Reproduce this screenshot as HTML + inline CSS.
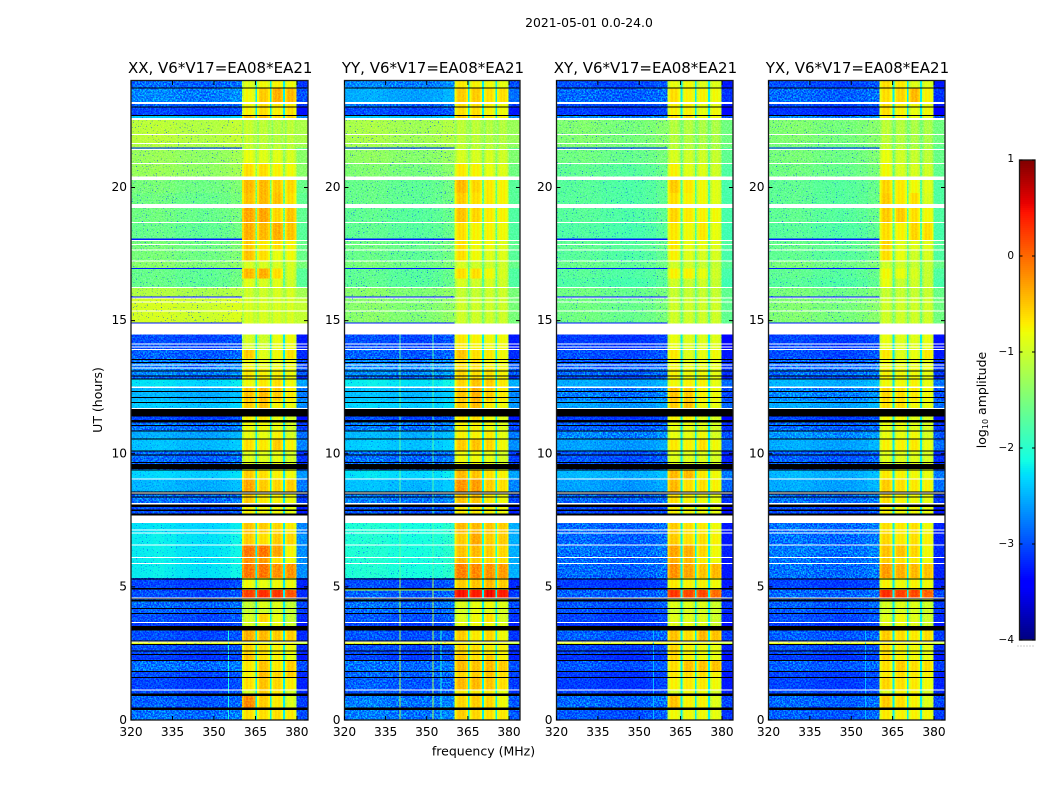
<!DOCTYPE html>
<html lang="en">
<head>
<meta charset="utf-8">
<title>2021-05-01 0.0-24.0</title>
<style>
html,body{margin:0;padding:0;background:#fff;}
svg{display:block;}
text{font-family:"DejaVu Sans","Liberation Sans",sans-serif;fill:#000;}
</style>
</head>
<body>
<svg id="figure" xmlns="http://www.w3.org/2000/svg" width="1050" height="800" viewBox="0 0 1050 800">
<defs>
<filter id="grain" x="0" y="0" width="1" height="1" color-interpolation-filters="sRGB">
<feTurbulence type="fractalNoise" baseFrequency="0.62" numOctaves="2" seed="7"/>
<feColorMatrix type="matrix" values="3.2 0 0 0 -1.2  3.2 0 0 0 -1.2  3.2 0 0 0 -1.2  0 0 0 0 1"/>
</filter>
<filter id="specks" x="0" y="0" width="1" height="1" color-interpolation-filters="sRGB">
<feTurbulence type="fractalNoise" baseFrequency="0.8" numOctaves="1" seed="23"/>
<feColorMatrix type="matrix" values="0 0 0 0 0  0 0 0 0 0.3  0 0 0 0 1  40 0 0 0 -28"/>
</filter>
</defs>
<rect width="1050" height="800" fill="#fff"/>
<text x="589" y="27" font-size="12.400" text-anchor="middle">2021-05-01 0.0-24.0</text>
<text x="483.500" y="755.500" font-size="12.500" text-anchor="middle">frequency (MHz)</text>
<text transform="translate(102,400) rotate(-90)" font-size="12.500" text-anchor="middle">UT (hours)</text>
<text transform="translate(986,400) rotate(-90)" font-size="12.500" text-anchor="middle">log<tspan font-size="8" dy="2">10</tspan><tspan dy="-2"> amplitude</tspan></text>
</svg>
<script>
// ---- Axis data ----
const panelTitles = ["XX, V6*V17=EA08*EA21","YY, V6*V17=EA08*EA21","XY, V6*V17=EA08*EA21","YX, V6*V17=EA08*EA21"];
const hourTicks = [0,5,10,15,20];
const freqTicks = [320,335,350,365,380];
const colorbarTicks = [1,0,-1,-2,-3,-4];

// ---- Frequency structure (MHz): sky, four spectral windows, gaps, upper edge ----
const skyEdges = [320,324,328,332,336,340,344,348,352,356,360.2];
const skyProfile = [0.04,0.05,0.07,0.05,0.01,0,-0.02,0,0.03,0.09];
const windowStart = [360.2,365.6,370.8,375.6];
const windowEnd = [365.0,370.2,375.0,379.8];
const windowShape = [-0.18,0.02,0.1,0.02,0.1,0.02,-0.1];
const upperEdge = [379.8,384];

// ---- Time rows: first sample (2.25 min integrations from 0 UT) of each row, top-down ----
const rowStart = [640,633,617,614,606,601,577,573,571,557,541,528,513,498,480,470,459,452,442,433,422,386,371,362,353,345,342,334,320,304,298,290,282,269,250,241,229,217,199,187,175,164,156,142,130,122,112,107,98,90,78,76,66,59,49,43,30,24,12];
const edgeDrop = [-.25,-.25,-.25,-.25,-.25,-.05,-.05,-.05,-.05,-.05,-.05,-.05,-.05,-.05,-.05,-.05,-.05,-.05,-.05,-.05,-.05,-.25,-.25,-.25,-.25,-.25,-.25,-.25,-.25,-.25,-.25,-.25,-.25,-.25,-.25,-.25,-.25,-.25,-.4,-.4,-.4,-.4,-.4,-.15,-.15,-.15,-.15,-.15,-.15,-.15,-.15,-.15,-.15,-.15,-.15,-.15,-.15,-.15,-.15];

// ---- log10 amplitude per row: [sky, window1, window2, window3, window4] ----
const cellsXX = [
[-2.85,-.95,-.85,-.8,-.85],[-2.7,-.85,-.6,-.45,-.5],[-2.85,-.85,-.7,-.75,-.75],[-3.05,-.8,-.7,-.8,-.7],[-2.4,-.55,-.55,-.7,-.65],
[-1.15,-1.1,-1.15,-1.2,-1.15],[-1.2,-1.1,-1.15,-1.15,-1.15],[-1.55,-1.15,-1.15,-1.15,-1.2],[-1.35,-.9,-.95,-.95,-1],[-1.35,-.7,-.7,-.8,-.85],
[-1.55,-.5,-.5,-.6,-.65],[-1.6,-.55,-.5,-.55,-.7],[-1.6,-.4,-.4,-.65,-.55],[-1.65,-.45,-.5,-.45,-.55],[-1.55,-.6,-.75,-.7,-.8],
[-1.55,-.55,-.7,-.9,-.85],[-1.45,-1,-1,-1,-1],[-1.65,-.5,-.45,-.7,-1],[-1.65,-.95,-1,-.95,-1.05],[-1.2,-1.05,-1.05,-1,-1],
[-1,-1,-1,-1,-1],[-3,-1,-1.05,-.9,-.85],[-2.9,-.6,-.95,-.85,-.7],[-2.75,-.85,-.9,-.9,-.85],[-2.7,-.75,-.8,-.8,-.85],
[-2.9,-.75,-.8,-.8,-.85],[-2.3,-.85,-.75,-.7,-.85],[-2.5,-.55,-.5,-.6,-.75],[-2.4,-.6,-.55,-.8,-.85],[-3.05,-.8,-.75,-.9,-1],
[-2.8,-.85,-.85,-.9,-1],[-2.55,-.9,-.9,-.8,-1],[-2.45,-.7,-.75,-.6,-.8],[-2.85,-.95,-.95,-.9,-1],[-2.35,-.6,-.7,-.8,-.85],
[-2.5,-.4,-.6,-.65,-.6],[-2.8,-.6,-.75,-.8,-.85],[-3,-.8,-.85,-.85,-.9],[-2.3,-.55,-.6,-.65,-.75],[-2.25,-.6,-.7,-.6,-.65],
[-2.25,-.15,-.15,-.4,-.8],[-2.25,-.3,-.35,-.7,-.85],[-2.25,-.15,-.15,-.3,-.3],[-3.05,-.85,-.9,-.85,-.85],[-3,.15,.25,.2,.05],
[-2.85,-1.1,-.95,-.95,-1.1],[-2.9,-1.1,-1.05,-1,-1.1],[-3,-1,-.65,-.9,-1.1],[-3.1,-1,-.9,-.9,-1.05],[-3,-.45,-.5,-.6,-.6],
[-.9,-.8,-.85,-.85,-.85],[-3,-.65,-.7,-.8,-.85],[-3.1,-.55,-.7,-.8,-.9],[-2.8,-.75,-.55,-.75,-.6],[-3,-.8,-.5,-.65,-.6],
[-3.05,-.7,-.55,-.65,-.75],[-3,-1,-.6,-.75,-1],[-2.9,-.25,-.6,-.75,-.95],[-2.8,-.7,-.7,-.7,-.75]];
const cellsYY = [
[-2.7,-.75,-.8,-.85,-.9],[-2.55,-.6,-.6,-.7,-.7],[-2.8,-.7,-.7,-.8,-.85],[-3,-.7,-.7,-.8,-.85],[-2.4,-.6,-.65,-.75,-.8],
[-1.25,-1.15,-1.15,-1.2,-1.2],[-1.3,-1.1,-1.15,-1.15,-1.2],[-1.6,-1.15,-1.15,-1.2,-1.2],[-1.4,-1,-1,-1,-1.05],[-1.5,-.75,-.8,-.9,-.95],
[-1.65,-.5,-.65,-.75,-.8],[-1.65,-.6,-.7,-.75,-.8],[-1.7,-.55,-.65,-.75,-.8],[-1.7,-.7,-.8,-.8,-.85],[-1.6,-.7,-.85,-.85,-.95],
[-1.65,-.7,-.85,-.95,-.95],[-1.55,-1,-1.05,-1.05,-1.05],[-1.7,-.7,-.7,-.85,-1],[-1.7,-1,-1.05,-1,-1.05],[-1.45,-1.1,-1.1,-1.05,-1.05],
[-1.45,-1.05,-1.05,-1.05,-1.05],[-3,-.75,-.8,-.85,-.85],[-2.9,-.55,-.7,-.75,-.85],[-2.7,-.7,-.7,-.8,-.85],[-2.65,-.65,-.7,-.7,-.8],
[-2.85,-.65,-.7,-.75,-.8],[-2.25,-.65,-.55,-.6,-.75],[-2.45,-.55,-.45,-.6,-.75],[-2.35,-.6,-.5,-.75,-.85],[-3,-.75,-.7,-.85,-.95],
[-2.75,-.8,-.8,-.85,-.95],[-2.5,-.8,-.8,-.75,-.9],[-2.4,-.6,-.55,-.65,-.85],[-2.8,-.85,-.85,-.9,-1],[-2.3,-.5,-.55,-.7,-.8],
[-2.45,-.3,-.35,-.6,-.7],[-2.75,-.55,-.55,-.75,-.85],[-2.95,-.75,-.75,-.8,-.85],[-2.1,-.5,-.5,-.55,-.6],[-2.1,-.6,-.4,-.6,-.6],
[-2.1,-.55,-.5,-.6,-.65],[-2.1,-.5,-.6,-.65,-.7],[-2.1,-.2,-.25,-.3,-.35],[-3,-.6,-.55,-.5,-.6],[-2.9,.4,.35,.45,.35],
[-2.8,-.95,-.9,-.85,-.95],[-2.85,-1,-.9,-.95,-1],[-2.95,-.95,-.85,-.7,-1],[-3.05,-.9,-.85,-.85,-.95],[-2.95,-.6,-.75,-.65,-.85],
[-.9,-.8,-.85,-.85,-.85],[-3,-.65,-.7,-.75,-.8],[-3.05,-.55,-.7,-.6,-.8],[-2.8,-.5,-.55,-.5,-.6],[-2.85,-.65,-.6,-.55,-.7],
[-2.9,-.5,-.5,-.55,-.7],[-2.95,-.75,-.75,-.75,-.9],[-2.75,-.65,-.6,-.65,-.85],[-2.75,-.6,-.65,-.7,-.75]];
const cellsXY = [
[-3,-.9,-.85,-.95,-.95],[-2.85,-.7,-.8,-.8,-.85],[-3,-.8,-.8,-.9,-.9],[-3.1,-.8,-.8,-.9,-.85],[-2.7,-.7,-.7,-.85,-.85],
[-1.5,-1.2,-1.2,-1.25,-1.25],[-1.5,-1.15,-1.2,-1.2,-1.25],[-1.7,-1.2,-1.2,-1.2,-1.25],[-1.6,-1,-1.05,-1.05,-1.1],[-1.7,-.8,-.95,-.95,-1.05],
[-1.75,-.6,-.75,-.85,-.95],[-1.75,-.7,-.8,-.85,-.95],[-1.75,-.65,-.75,-.8,-.85],[-1.8,-.75,-.85,-.75,-.9],[-1.7,-.75,-.9,-.9,-.95],
[-1.75,-.8,-.95,-1,-1],[-1.65,-1.05,-1.05,-1.1,-1.1],[-1.75,-.8,-.8,-.9,-1.05],[-1.8,-1.05,-1.1,-1.05,-1.1],[-1.6,-1.1,-1.1,-1.1,-1.1],
[-1.6,-1.05,-1.05,-1.05,-1.05],[-3.1,-.9,-.95,-.95,-.95],[-3,-.75,-.95,-.9,-.85],[-2.9,-.85,-.9,-.9,-.9],[-2.85,-.8,-.85,-.85,-.9],
[-3,-.8,-.85,-.85,-.9],[-2.55,-.85,-.8,-.8,-.9],[-2.75,-.55,-.6,-.8,-.85],[-2.6,-.6,-.55,-.85,-.9],[-3.1,-.8,-.8,-.95,-1],
[-2.9,-.9,-.9,-.95,-1],[-2.7,-.9,-.9,-.85,-1],[-2.6,-.75,-.8,-.7,-.85],[-2.95,-.95,-.95,-.95,-1],[-2.5,-.5,-.5,-.75,-.85],
[-2.6,-.5,-.7,-.7,-.8],[-2.85,-.7,-.8,-.85,-.9],[-3.05,-.8,-.85,-.85,-.9],[-2.85,-.6,-.7,-.75,-.85],[-2.85,-.6,-.7,-.7,-.8],
[-2.8,-.4,-.45,-.65,-.85],[-2.85,-.45,-.5,-.75,-.85],[-2.85,-.3,-.4,-.55,-.5],[-3.1,-.75,-.8,-.8,-.85],[-2.9,.2,.1,.1,-.1],
[-2.95,-.95,-.95,-.95,-1.05],[-3,-1.05,-1,-1,-1.05],[-3.05,-.95,-.95,-.95,-1.05],[-3.15,-.95,-.9,-.95,-1.05],[-2.9,-.55,-.7,-.5,-.55],
[-.9,-.8,-.85,-.85,-.85],[-3.05,-.65,-.8,-.85,-.9],[-3.15,-.65,-.8,-.85,-.9],[-2.95,-.7,-.55,-.55,-.55],[-3.1,-.75,-.7,-.7,-.8],
[-3.1,-.8,-.75,-.75,-.85],[-3.05,-1,-.85,-.85,-1],[-2.85,-.55,-.8,-.8,-.95],[-2.95,-.85,-.85,-.85,-.9]];
const cellsYX = [
[-3,-.7,-.75,-.95,-.95],[-2.85,-.7,-.65,-.5,-.8],[-3,-.7,-.8,-.85,-.9],[-3.15,-.7,-.8,-.9,-.85],[-2.7,-.8,-.8,-.9,-.9],
[-1.5,-1.15,-1.2,-1.25,-1.25],[-1.55,-1.1,-1.2,-1.25,-1.25],[-1.7,-1.1,-1.1,-1.15,-1.2],[-1.55,-.9,-1.05,-1.1,-1.15],[-1.6,-.85,-1,-1,-1.05],
[-1.7,-.65,-.75,-.85,-.95],[-1.7,-.6,-.75,-.7,-1],[-1.7,-.6,-.6,-.7,-.85],[-1.75,-.7,-.8,-.65,-.7],[-1.65,-.65,-.95,-.95,-.95],
[-1.7,-.7,-.9,-1.05,-1],[-1.55,-1.05,-1.05,-1.1,-1.1],[-1.7,-.85,-.9,-1,-1.1],[-1.75,-.9,-1.1,-1.05,-1.1],[-1.55,-1.1,-1.1,-1.1,-1.1],
[-1.5,-1.05,-1.05,-1.05,-1.05],[-3.05,-.9,-.95,-.95,-.9],[-3,-.75,-.95,-.9,-.75],[-2.85,-.85,-.9,-.9,-.9],[-2.8,-.8,-.85,-.85,-.9],
[-2.95,-.8,-.85,-.85,-.9],[-2.5,-.85,-.85,-.8,-.9],[-2.7,-.65,-.7,-.75,-.85],[-2.55,-.7,-.7,-.85,-.9],[-3.05,-.85,-.85,-.95,-1],
[-2.85,-.9,-.9,-.95,-1],[-2.65,-.9,-.9,-.85,-1],[-2.55,-.8,-.8,-.75,-.9],[-2.9,-.95,-.95,-.95,-1],[-2.5,-.75,-.8,-.85,-.9],
[-2.55,-.6,-.7,-.75,-.8],[-2.8,-.7,-.8,-.85,-.9],[-3,-.8,-.85,-.85,-.9],[-2.8,-.7,-.75,-.7,-.85],[-2.8,-.65,-.75,-.7,-.8],
[-2.75,-.55,-.55,-.65,-.85],[-2.8,-.6,-.7,-.75,-.85],[-2.8,-.35,-.45,-.5,-.55],[-3.05,-.8,-.85,-.8,-.85],[-2.85,.25,.15,.1,-.05],
[-2.9,-1,-.95,-.95,-1.05],[-2.95,-1.05,-1,-1,-1.05],[-3,-.95,-.85,-.95,-1.05],[-3.1,-.95,-.9,-.95,-1.05],[-2.9,-.6,-.7,-.75,-.7],
[-.9,-.8,-.85,-.85,-.85],[-3,-.7,-.8,-.85,-.9],[-3.1,-.65,-.8,-.85,-.9],[-2.9,-.7,-.6,-.7,-.7],[-3.05,-.75,-.7,-.75,-.8],
[-3.05,-.65,-.7,-.75,-.85],[-3,-.95,-.8,-.8,-1],[-2.85,-.6,-.7,-.8,-.95],[-2.9,-.75,-.8,-.8,-.85]];
const panelCells = [cellsXX,cellsYY,cellsXY,cellsYX];

// ---- Missing integrations (white) as [later sample, earlier sample] ----
const missingSpans = [[619,617],[603,601],[587,586],[578,577],[572,571],[558,557],[544.5,541],[517,513],[499,498],[481,480],[476.5,475.7],[471,470],[460,459],[433.7,432.7],[423,422],[419,418],[410,409],[397.3,386],[377.3,376],[374.3,373.3],[371.7,370.7],[356.3,355.3],[353,352],[334,332.7],[312.7,311.3],[241.7,240.7],[228,227],[217.3,216],[204.7,197.3],[190.7,189.7],[187.7,186.7],[176,175],[163.3,162.3],[157,156],[122.7,121.7],[98,97],[78.7,77.7],[30.7,29.7]];
// ---- Flagged integrations (black) ----
const flaggedSpans = [[633.5,632.5],[614.5,613.5],[606,605],[361.7,360.7],[358.7,357.7],[350,349],[345,344],[342,341],[329.3,328.7],[323.3,322.3],[318.3,317.7],[311.3,304],[300.7,298],[295.3,294.7],[290,289],[282,281],[270,268.7],[265.7,265],[258.3,257.3],[256.3,251],[250.5,249.8],[229,228],[227,226],[224,223],[216,213.3],[210.7,209.3],[206.7,204.7],[141.7,140.7],[132,130.7],[121.7,121],[120.7,118.7],[112,111],[107.3,106],[94,89.7],[79.7,78.7],[76.3,75],[69.7,68.7],[66.3,65.3],[60,59],[49.3,48.3],[43.3,42.3],[26.3,24],[12.3,10]];
// ---- Narrow sky-only rows: panels, later sample, earlier sample, level ----
const skyLinePanels = [[0,1,2,3],[0,1,2,3],[0,1,2,3],[0,1,2,3],[0,1,2,3],[1],[1]];
const skyLineFrom = [573.3,482.3,452.5,424.3,398,130.5,94];
const skyLineTo = [572.3,481,451.5,423,397,129.5,93];
const skyLineLevel = [-3.25,-3.25,-3.25,-3.25,-3.25,-1.15,-2.9];
// ---- Persistent narrow-band interference: panel, MHz, first sample, last sample, level ----
const rfiPanel = [1,1,1,1,0,1,2,3];
const rfiFreq = [340,352,340,352,355,355,355,355];
const rfiFrom = [0,0,142,142,0,0,0,0];
const rfiTo = [199,199,386,386,90,90,90,90];
const rfiLevel = [-1.15,-1.2,-1.7,-1.8,-2.1,-2.1,-2.45,-2.45];

// ---- Axis functions ----
const panelLeft = [131,344.5,556.5,768.5];
const panelRight = [308,520,733,945];
const plotTop = 81, plotBottom = 720;
const sampleHours = 24/640;
const yScale = h => plotBottom - h*(plotBottom-plotTop)/24;
const ySample = s => yScale(s*sampleHours);
const xScale = (p,f) => panelLeft[p] + (f-320)*(panelRight[p]-panelLeft[p])/64;
const cbTop = 160, cbBottom = 640, cbLeft = 1019.5, cbRight = 1035;
const cbScale = v => cbBottom - (v+4)*(cbBottom-cbTop)/5;

// ---- Colour map: jet over log10 amplitude -4..1 ----
function lerpStops(t,stops){
  for(let i=1;i<stops.length;i++){
    if(t<=stops[i][0]){
      const a=stops[i-1],b=stops[i];
      return a[1]+(b[1]-a[1])*(t-a[0])/(b[0]-a[0]);
    }
  }
  return stops[stops.length-1][1];
}
const jetR=[[0,0],[.35,0],[.66,1],[.89,1],[1,.5]];
const jetG=[[0,0],[.125,0],[.375,1],[.64,1],[.91,0],[1,0]];
const jetB=[[0,.5],[.11,1],[.34,1],[.65,0],[1,0]];
function jet(v){
  const t=Math.max(0,Math.min(1,(v+4)/5));
  return 'rgb('+Math.round(255*lerpStops(t,jetR))+','+Math.round(255*lerpStops(t,jetG))+','+Math.round(255*lerpStops(t,jetB))+')';
}

const NS='http://www.w3.org/2000/svg';
const fig=document.getElementById('figure');
function make(tag,attrs,parent){
  const el=document.createElementNS(NS,tag);
  for(const k in attrs){el.setAttribute(k,attrs[k]);}
  parent.appendChild(el);
  return el;
}
function cell(parent,x0,x1,y0,y1,fill,op){
  const r=make('rect',{x:x0,y:y0,width:Math.max(x1-x0,.5),height:Math.max(y1-y0,.5),fill:fill,'shape-rendering':'crispEdges'},parent);
  if(op){r.setAttribute('opacity',op);}
  return r;
}

panelTitles.forEach(function(title,p){
  const g=make('g',{},fig);
  
  
  const L=panelLeft[p],R=panelRight[p];
  const cells=panelCells[p];

  // heatmap cells
  const hm=make('g',{},g);
  
  
  rowStart.forEach(function(s,r){
    const y0=ySample(s);
    const y1=r+1<rowStart.length?ySample(rowStart[r+1]):plotBottom;
    const row=cells[r];
    const sky=row[0];
    skyProfile.forEach(function(off,c){
      const el=cell(hm,xScale(p,skyEdges[c]),xScale(p,skyEdges[c+1]),y0,y1,jet(sky+off));
      
      
    });
    windowStart.forEach(function(f0,w){
      const f1=windowEnd[w];
      const n=windowShape.length;
      windowShape.forEach(function(off,k){
        const a=f0+(f1-f0)*k/n, b=f0+(f1-f0)*(k+1)/n;
        const el=cell(hm,xScale(p,a),xScale(p,b),y0,y1,jet(row[w+1]+off));
        
        
      });
      if(w<3){
        const gap=cell(hm,xScale(p,f1),xScale(p,windowStart[w+1]),y0,y1,jet(Math.max(sky,-2.2)));
        
        
      }
    });
    const edge=cell(hm,xScale(p,upperEdge[0]),xScale(p,upperEdge[1]),y0,y1,jet(sky+edgeDrop[r]));
    
    
  });

  // fine speckle texture: heavier on the faint blue rows, light on the bright ones
  rowStart.forEach(function(s,r){
    const y0=ySample(s);
    const y1=r+1<rowStart.length?ySample(rowStart[r+1]):plotBottom;
    const sky=cells[r][0];
    const strength=sky<-2.6?.6:(sky<-2?.32:.16);
    [[320,360.2],[379.8,384]].forEach(function(b){
      const x0=xScale(p,b[0]),x1=xScale(p,b[1]);
      const grain=make('rect',{x:x0,y:y0,width:x1-x0,height:y1-y0,filter:'url(#grain)',opacity:strength,style:'mix-blend-mode:overlay'},g);
      
      
    });
  });
  const winGrain=make('rect',{x:xScale(p,360.2),y:plotTop,width:xScale(p,379.8)-xScale(p,360.2),height:plotBottom-plotTop,filter:'url(#grain)',opacity:.2,style:'mix-blend-mode:overlay'},g);
  
  
  const dotsLayer=make('rect',{x:L,y:plotTop,width:xScale(p,360.2)-L,height:plotBottom-plotTop,filter:'url(#specks)'},g);
  
  

  // narrow-band interference
  rfiPanel.forEach(function(pp,i){
    if(pp!==p){return;}
    const x=xScale(p,rfiFreq[i]);
    const el=cell(g,x,x+1,ySample(rfiTo[i]),ySample(rfiFrom[i]),jet(rfiLevel[i]));
    
    
  });

  // sky-only narrow rows
  skyLinePanels.forEach(function(list,i){
    if(list.indexOf(p)<0){return;}
    const a=cell(g,xScale(p,320),xScale(p,360.2),ySample(skyLineFrom[i]),ySample(skyLineTo[i]),jet(skyLineLevel[i]));
    
    
  });

  // flagged & missing rows
  flaggedSpans.forEach(function(sp){
    const el=cell(g,L,R,ySample(sp[0]),ySample(sp[1]),'#000');
    
    
  });
  missingSpans.forEach(function(sp){
    const el=cell(g,L,R,ySample(sp[0]),ySample(sp[1]),'#fff');
    
    
  });

  // frame
  const frame=make('rect',{x:L,y:plotTop-.5,width:R-L,height:plotBottom-plotTop+.5,fill:'none',stroke:'#1a1a1a','stroke-width':1.3},g);
  
  

  // title
  const t=make('text',{x:(L+R)/2+.7,y:73,'font-size':15,'text-anchor':'middle'},g);
  t.textContent=title;
  
  

  // y ticks
  hourTicks.forEach(function(h){
    const y=yScale(h);
    const a=make('path',{d:'M'+L+' '+y+'h4M'+R+' '+y+'h-4',stroke:'#000','stroke-width':1},g);
    
    
    const lab=make('text',{x:L-4,y:y+(h===0?4:3.5),'font-size':12.2,'text-anchor':'end'},g);
    lab.textContent=h;
    
    
  });
  // x ticks
  freqTicks.forEach(function(f){
    const x=xScale(p,f);
    const a=make('path',{d:'M'+x+' '+plotBottom+'v-4M'+x+' '+plotTop+'v4',stroke:'#000','stroke-width':1},g);
    
    
    const lab=make('text',{x:x,y:736,'font-size':12.2,'text-anchor':'middle'},g);
    lab.textContent=f;
    
    
  });
});

// colour bar
const cb=make('g',{},fig);


for(let i=0;i<240;i++){
  const v0=-4+5*i/240, v1=-4+5*(i+1)/240;
  const seg=cell(cb,cbLeft,cbRight,cbScale(v1),cbScale(v0),jet((v0+v1)/2));
  
  
}
const cbFrame=make('rect',{x:cbLeft,y:cbTop,width:cbRight-cbLeft,height:cbBottom-cbTop,fill:'none',stroke:'#1a1a1a','stroke-width':1.3},cb);


colorbarTicks.forEach(function(v){
  const y=cbScale(v);
  const a=make('path',{d:'M'+cbLeft+' '+y+'h3M'+cbRight+' '+y+'h-3',stroke:'#000','stroke-width':1},cb);
  
  
  const lab=make('text',{x:1014,y:y+(v===1?2:3),'font-size':10.5,'text-anchor':'end'},cb);
  lab.textContent=v<0?'\u2212'+(-v):String(v);
  
  
});
const dots=make('path',{d:'M1017.500 646H1035',stroke:'#999','stroke-width':1,'stroke-dasharray':'1 2'},cb);


</script>
</body>
</html>
